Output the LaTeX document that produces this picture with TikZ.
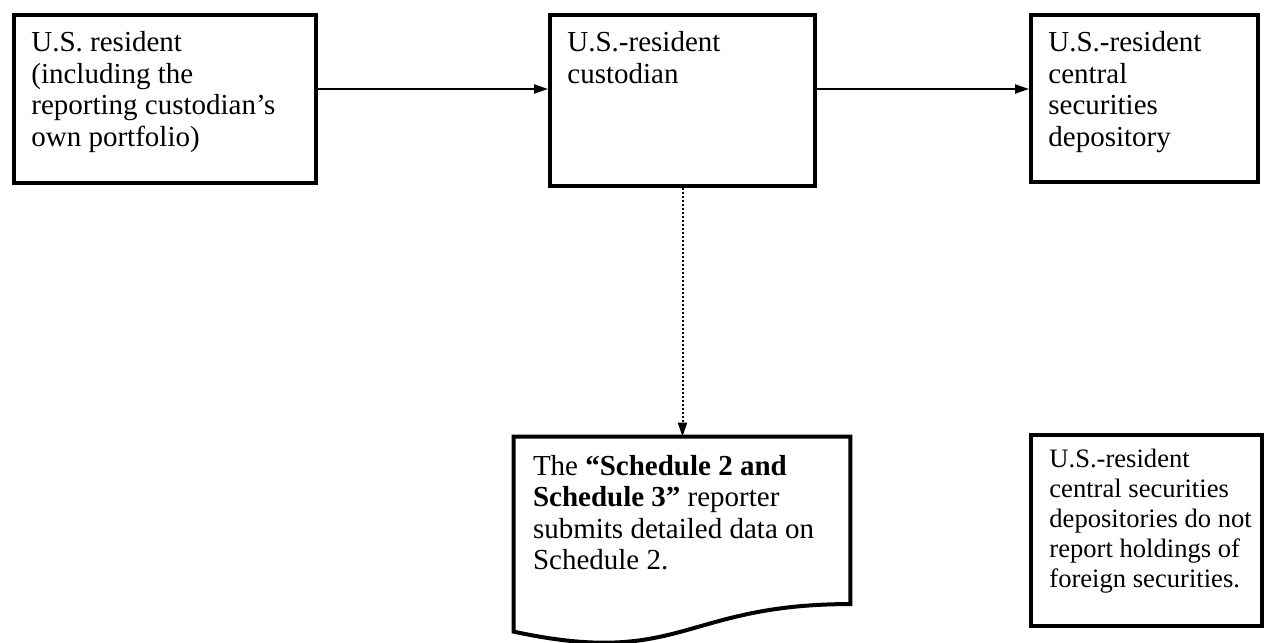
\documentclass[tikz,border=0pt]{standalone}
\usepackage{fontspec}
\setmainfont{Liberation Serif}
\usetikzlibrary{arrows.meta,calc}
\tikzset{
  box/.style={draw, line width=2pt, minimum width=#1, inner sep=0pt},
  txt/.style={anchor=north west, align=left, inner sep=0pt, font=\fontsize{14.5}{15.8}\selectfont},
  link/.style={line width=1pt, -{Triangle[length=7pt,width=4.5pt]}},
}
\begin{document}
\begin{tikzpicture}[x=0.5pt, y=-0.5pt]
    \useasboundingbox (0,0) rectangle (1267,642);
    % Boxes
    \node[box=151pt, minimum height=84pt] (res) at (165,99) {};
    \node[box=132.5pt, minimum height=85.5pt] (cust) at (682.5,100.5) {};
    \node[box=113.5pt, minimum height=83.5pt] (csd) at (1144.5,98.5) {};
    \node[box=115.5pt, minimum height=95.5pt] (note) at (1146.5,530.5) {};
    % Document
    \node[minimum width=168pt, minimum height=104pt, inner sep=0pt] (doc) at (682,541) {};
    \draw[line width=2pt] (doc.north west) -- (doc.north east)
      -- ($(doc.north east)!0.802!(doc.south east)$)
      .. controls ($(doc.north)!0.802!(doc.south)$) and ($(doc.north)!1.107!(doc.south)$)
      .. ($(doc.north west)!0.934!(doc.south west)$) -- cycle;
    % Texts
    \node[txt] (restxt) at ([shift={(19,18)}]res.north west)
      {U.S. resident\\(including the\\reporting custodian’s\\own portfolio)};
    \node[txt] (custtxt) at ([shift={(19,18)}]cust.north west) {U.S.-resident\\custodian};
    \node[txt] (csdtxt) at ([shift={(19,18)}]csd.north west)
      {U.S.-resident\\central\\securities\\depository};
    \node[txt] (doctxt) at ([shift={(19,18)}]doc.north west)
      {The \textbf{“Schedule 2 and}\\\textbf{Schedule 3”} reporter\\submits detailed data on\\Schedule 2.};
    \node[txt, font=\fontsize{13.3}{15}\selectfont] (notetxt) at ([shift={(20,16)}]note.north west)
      {U.S.-resident\\central securities\\depositories do not\\report holdings of\\foreign securities.};
    % Arrows
    \draw[link] ([yshift=5pt]res.east) -- ([yshift=5pt]res.east -| cust.west);
    \draw[link] ([yshift=5.75pt]cust.east) -- ([yshift=5.75pt]cust.east -| csd.west);
    \draw[link, dash pattern=on 1pt off 1pt] (cust.south) -- (cust.south |- doc.north);
\end{tikzpicture}
\end{document}
